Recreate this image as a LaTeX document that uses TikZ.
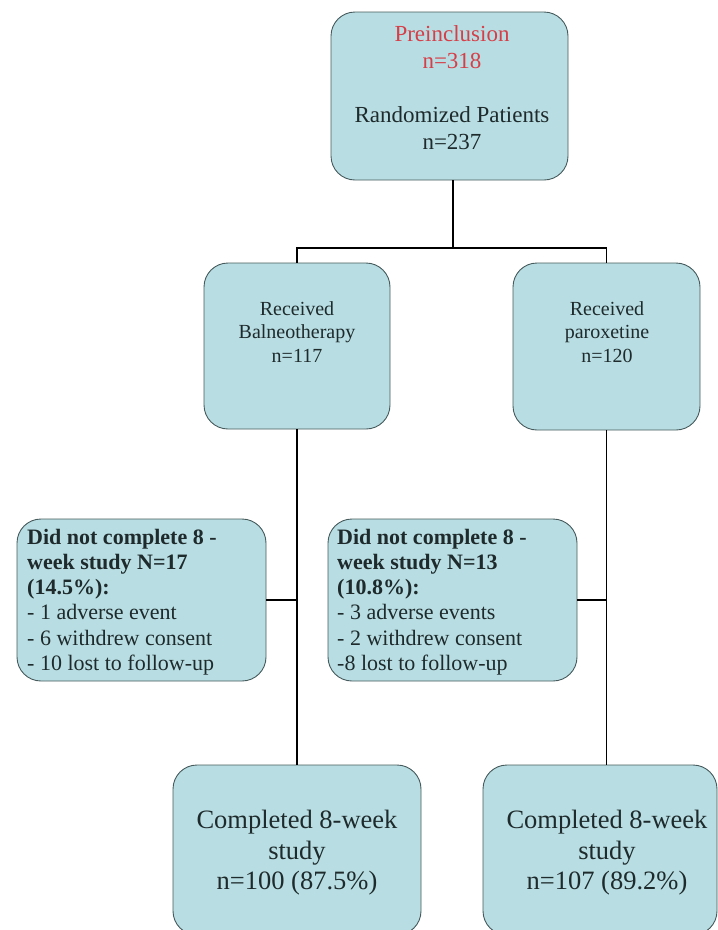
\documentclass[tikz,border=0pt]{standalone}
\usepackage{fontspec}
\setmainfont{LiberationSerif}[Extension=.ttf, UprightFont=*-Regular, BoldFont=*-Bold, ItalicFont=*-Italic, BoldItalicFont=*-BoldItalic]
\definecolor{boxfill}{RGB}{184,222,227}
\definecolor{boxline}{RGB}{70,90,92}
\definecolor{txt}{RGB}{30,42,44}
\definecolor{redtxt}{RGB}{214,62,72}
\tikzset{
  box/.style={draw=boxline, line width=0.9pt, fill=boxfill, rounded corners=24pt, inner sep=0pt},
  conn/.style={draw=black, line width=1.6pt},
  ctext/.style={text=txt, align=center, inner sep=0pt},
  ltext/.style={text=txt, align=left, inner sep=0pt, anchor=west},
}
\begin{document}
\begin{tikzpicture}[x=1pt,y=-1pt]
\useasboundingbox (0,0) rectangle (718,930);
% boxes
\node[box, minimum width=237pt, minimum height=168pt] (top) at (449.5,96) {};
\node[box, minimum width=186pt, minimum height=166pt] (L) at (297,346) {};
\node[box, minimum width=187pt, minimum height=167pt] (R) at (606.5,346.5) {};
\node[box, minimum width=249pt, minimum height=162pt] (DL) at (141.5,600) {};
\node[box, minimum width=249pt, minimum height=162pt] (DR) at (452.5,600) {};
\node[box, minimum width=248pt, minimum height=170pt] (BL) at (297,850) {};
\node[box, minimum width=234pt, minimum height=170pt] (BR) at (600,850) {};
% texts
\node[ctext, font=\fontsize{23}{27}\selectfont] (ttop) at (452,88)
  {\textcolor{redtxt}{Preinclusion}\\\textcolor{redtxt}{n=318}\\[27pt]Randomized Patients\\n=237};
\node[ctext, font=\fontsize{20}{23.5}\selectfont] (tL) at (297,332)
  {Received\\Balneotherapy\\n=117};
\node[ctext, font=\fontsize{20}{23.5}\selectfont] (tR) at (607,332)
  {Received\\paroxetine\\n=120};
\node[ltext, font=\fontsize{22}{25.3}\selectfont] (tDL) at (27,602)
  {\textbf{Did not complete 8 -}\\\textbf{week study N=17}\\\textbf{(14.5\%):}\\- 1 adverse event\\- 6 withdrew consent\\- 10 lost to follow-up};
\node[ltext, font=\fontsize{22}{25.3}\selectfont] (tDR) at (337,602)
  {\textbf{Did not complete 8 -}\\\textbf{week study N=13}\\\textbf{(10.8\%):}\\- 3 adverse events\\- 2 withdrew consent\\-8 lost to follow-up};
\node[ctext, font=\fontsize{26.5}{30.5}\selectfont] (tBL) at (297,853)
  {Completed 8-week\\study\\n=100 (87.5\%)};
\node[ctext, font=\fontsize{26.5}{30.5}\selectfont] (tBR) at (607,853)
  {Completed 8-week\\study\\n=107 (89.2\%)};
% connectors
\coordinate (J) at (453,248);
\draw[conn] (top.south -| J) -- (J);
\draw[conn] (L.north) |- (J) -| (R.north);
\draw[conn] (L.south) -- (BL.north);
\draw[conn] (R.south) -- (R.south |- BR.north);
\draw[conn] (DL.east) -- (DL.east -| L.south);
\draw[conn] (DR.east) -- (DR.east -| R.south);
\end{tikzpicture}
\end{document}
